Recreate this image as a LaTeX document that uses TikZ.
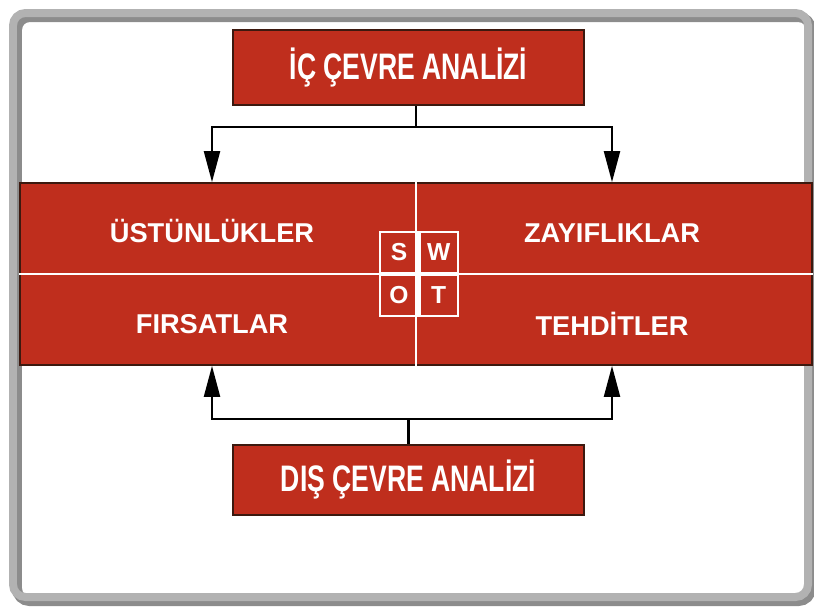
\documentclass[tikz,border=0pt]{standalone}
\usepackage{fontspec}
\setmainfont{Liberation Sans}
\newfontfamily\narrowfont{Liberation Sans}[FakeStretch=0.72]
\usepackage{tikz}
\usetikzlibrary{arrows.meta, positioning}

\definecolor{swotred}{RGB}{191,46,29}
\definecolor{edgered}{RGB}{60,25,15}

\tikzset{
    titlebox/.style={draw=edgered, line width=1.2pt, fill=swotred, text=white,
        minimum width=7.02cm, font=\narrowfont\bfseries\fontsize{21}{24}\selectfont},
    quadtext/.style={text=white, font=\bfseries\fontsize{15.5}{18}\selectfont},
    cell/.style={draw=white, line width=1pt, minimum width=0.76cm, minimum height=0.82cm,
        inner sep=0pt, text=white, font=\bfseries\fontsize{14}{16}\selectfont},
    arr/.style={line width=1.2pt, -{Triangle[length=0.62cm, width=0.32cm]}}
}

\begin{document}
\begin{tikzpicture}[x=0.02cm, y=-0.02cm]
    \useasboundingbox (0,0) rectangle (814,606);
    % Frame
    \draw[line width=0.2cm, black!45, rounded corners=0.25cm] (17,17) rectangle (811,601);
    \draw[line width=0.16cm, black!30, rounded corners=0.25cm] (13,13) rectangle (808,597);

    % Boxes
    \node[titlebox, minimum height=1.5cm] (ic) at (408.5,67.5) {İÇ ÇEVRE ANALİZİ};
    \node[titlebox, minimum height=1.4cm] (dis) at (408.5,480) {DIŞ ÇEVRE ANALİZİ};

    % Band with four quadrants
    \node[draw=edgered, line width=1pt, fill=swotred, minimum width=15.84cm, minimum height=3.64cm,
        inner sep=0pt] (band) at (416,274) {};
    \draw[white, line width=1pt] (band.north) -- (band.south);
    \draw[white, line width=1pt] (band.west) -- (band.east);
    \node[quadtext] (ust) at (212,231) {ÜSTÜNLÜKLER};
    \node[quadtext] (zay) at (612,233) {ZAYIFLIKLAR};
    \node[quadtext] (fir) at (212,324) {FIRSATLAR};
    \node[quadtext] (teh) at (612,324) {TEHDİTLER};

    % SWOT
    \node[cell] (s) at (399,252.5) {S};
    \node[cell, right=0pt of s] (w) {W};
    \node[cell, below=0pt of s] (o) {O};
    \node[cell, right=0pt of o] (t) {T};

    % Arrows
    \draw[line width=1.2pt] (ic.south -| band.north) -- ++(0,21) coordinate (icj);
    \draw[arr] (icj) -| (ust |- band.north);
    \draw[arr] (icj) -| (zay |- band.north);
    \draw[line width=1.2pt] (dis.north) -- ++(0,-25) coordinate (disj);
    \draw[arr] (disj) -| (fir |- band.south);
    \draw[arr] (disj) -| (teh |- band.south);
\end{tikzpicture}
\end{document}
